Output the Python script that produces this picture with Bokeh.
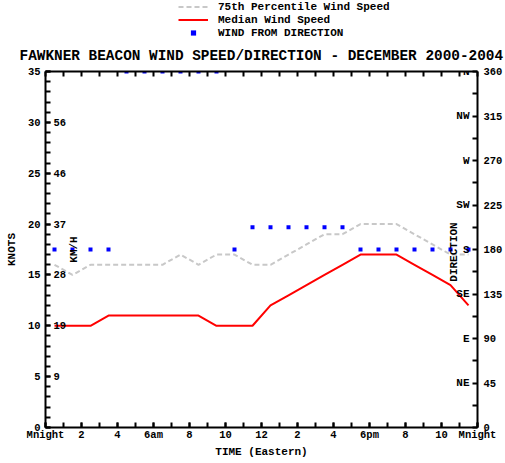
import math
from bokeh.plotting import figure
from bokeh.layouts import column
from bokeh.models import (Range1d, LinearAxis, FixedTicker, Label, LabelSet,
                          Legend, LegendItem, ColumnDataSource)
from bokeh.core.properties import value
from bokeh.embed import file_html
from bokeh.resources import INLINE

# ---------------- data ----------------
hours = [0.5, 1.5, 2.5, 3.5, 4.5, 5.5, 6.5, 7.5, 8.5, 9.5, 10.5, 11.5,
         12.5, 13.5, 14.5, 15.5, 16.5, 17.5, 18.5, 19.5, 20.5, 21.5, 22.5, 23.5]
median_speed = [10, 10, 10, 11, 11, 11, 11, 11, 11, 10, 10, 10,
                12, 13, 14, 15, 16, 17, 17, 17, 16, 15, 14, 12]
p75_speed = [16, 15, 16, 16, 16, 16, 16, 17, 16, 17, 17, 16,
             16, 17, 18, 19, 19, 20, 20, 20, 19, 18, 17, 17]
direction = [180, 180, 180, 180, 360, 360, 360, 360, 360, 360, 180, 202.5,
             202.5, 202.5, 202.5, 202.5, 202.5, 180, 180, 180, 180, 180, 180, 180]

hour_ticks = [0, 2, 4, 6, 8, 10, 12, 14, 16, 18, 20, 22, 24]
hour_minor = [0, 1, 2, 3, 4, 5, 6, 7, 8, 9, 10, 11, 12, 13, 14, 15, 16, 17,
              18, 19, 20, 21, 22, 23, 24]
hour_labels = ["Mnight", "2", "4", "6am", "8", "10", "12", "2", "4", "6pm",
               "8", "10", "Mnight"]
knot_ticks = [0, 5, 10, 15, 20, 25, 30, 35]
knot_minor = list(range(0, 36))
kmh_knots = [5, 10, 15, 20, 25, 30]
kmh_labels = ["9", "19", "28", "37", "46", "56"]
dir_ticks = [0, 45, 90, 135, 180, 225, 270, 315, 360]
dir_minor = [22.5, 67.5, 112.5, 157.5, 202.5, 247.5, 292.5, 337.5]
compass_dirs = [45, 90, 135, 180, 225, 270, 315, 360]
compass_labels = ["NE", "E", "SE", "S", "SW", "W", "NW", "N"]

title_text = "FAWKNER BEACON WIND SPEED/DIRECTION - DECEMBER 2000-2004"

FONT = value("Liberation Mono")
FONT_NAME = "Liberation Mono"

# layout in page pixels
W, H = 505, 463
HEAD = 39                      # header strip holding the legend
FL, FR, FT, FB = 45, 478, 71, 427

# ---------------- header (legend) ----------------
head = figure(width=W, height=HEAD, x_range=Range1d(0, 24), y_range=Range1d(-2, -1),
              output_backend="svg", toolbar_location=None,
              x_axis_location=None, y_axis_location=None, min_border=0)
head.outline_line_color = None
head.grid.grid_line_color = None
head.background_fill_color = "white"
head.border_fill_color = "white"

# legend samples (series lie outside this strip's range, so only the legend shows)
h_p75 = head.line(hours, p75_speed, line_color="#c8c8c8", line_width=2, line_dash="5 3")
h_med = head.line(hours, median_speed, line_color="#ff0000", line_width=2)
h_dir = head.scatter(hours, direction, marker="square", size=4,
                     fill_color="#0000ff", line_color=None)

legend = Legend(items=[LegendItem(label="75th Percentile Wind Speed", renderers=[h_p75]),
                       LegendItem(label="Median Wind Speed", renderers=[h_med]),
                       LegendItem(label="WIND FROM DIRECTION", renderers=[h_dir])],
                location=(178 - FL, 0), orientation="vertical",
                padding=0, margin=0, spacing=0, glyph_width=30,
                glyph_height=13, label_height=13, label_standoff=10,
                label_text_font=FONT_NAME, label_text_font_style="bold",
                label_text_font_size="11px", label_text_color="black",
                background_fill_alpha=0, border_line_alpha=0)
head.add_layout(legend)

# ---------------- main plot ----------------
p = figure(width=W, height=H - HEAD, x_range=Range1d(0, 24), y_range=Range1d(0, 35),
           output_backend="svg", toolbar_location=None,
           x_axis_location=None, y_axis_location=None,
           min_border_left=FL, min_border_right=W - FR,
           min_border_top=FT - HEAD, min_border_bottom=H - FB)
p.extra_y_ranges = {"dir": Range1d(0, 360)}
p.outline_line_color = None
p.grid.grid_line_color = None
p.background_fill_color = "white"
p.border_fill_color = "white"

p.title.text = title_text
p.title.align = "left"
p.title.vertical_align = "top"
p.title.offset = 19 - FL
p.title.standoff = 12
p.title.text_font = FONT_NAME
p.title.text_font_style = "bold"
p.title.text_font_size = "14.4px"
p.title.text_color = "black"


def style_axis(ax, standoff=3):
    ax.axis_line_color = "black"
    ax.axis_line_width = 2
    ax.major_tick_in = 5
    ax.major_tick_out = 0
    ax.minor_tick_in = 5
    ax.minor_tick_out = 0
    ax.major_tick_line_width = 2
    ax.minor_tick_line_width = 2
    ax.major_tick_line_color = "black"
    ax.minor_tick_line_color = "black"
    ax.major_label_text_font = FONT_NAME
    ax.major_label_text_font_style = "bold"
    ax.major_label_text_font_size = "10.5px"
    ax.major_label_text_color = "black"
    ax.major_label_standoff = standoff
    ax.axis_label_text_font = FONT_NAME
    ax.axis_label_text_font_style = "bold"
    ax.axis_label_text_font_size = "11px"
    ax.axis_label_text_color = "black"


bottom = LinearAxis(ticker=FixedTicker(ticks=hour_ticks, minor_ticks=hour_minor),
                    major_label_overrides={t: l for t, l in zip(hour_ticks, hour_labels)},
                    axis_label="TIME (Eastern)")
style_axis(bottom, 1)
bottom.axis_label_standoff = 2
p.add_layout(bottom, "below")

top = LinearAxis(ticker=FixedTicker(ticks=hour_minor, minor_ticks=[]),
                 major_label_overrides={t: "" for t in hour_minor})
style_axis(top, 0)
top.major_label_text_font_size = "1px"
p.add_layout(top, "above")

left = LinearAxis(ticker=FixedTicker(ticks=knot_ticks, minor_ticks=knot_minor),
                  axis_label="KNOTS")
style_axis(left, 5)
left.axis_label_standoff = 7
p.add_layout(left, "left")

right = LinearAxis(y_range_name="dir",
                   ticker=FixedTicker(ticks=dir_ticks, minor_ticks=dir_minor))
style_axis(right, 6)
p.add_layout(right, "right")

r_p75 = p.line(hours, p75_speed, line_color="#c8c8c8", line_width=2,
               line_dash="5 3")
r_med = p.line(hours, median_speed, line_color="#ff0000", line_width=2)
r_dir = p.scatter(hours, direction, y_range_name="dir", marker="square",
                  size=4, fill_color="#0000ff", line_color=None)

# km/h labels inside left axis
kmh_src = ColumnDataSource(dict(x=[0] * len(kmh_knots), y=kmh_knots, t=kmh_labels))
p.add_layout(LabelSet(x="x", y="y", text="t", source=kmh_src, x_offset=8,
                      text_align="left", text_baseline="middle",
                      text_font=FONT, text_font_style="bold",
                      text_font_size="10.5px", text_color="black"))

# compass labels inside right axis
cmp_src = ColumnDataSource(dict(x=[24] * len(compass_dirs), y=compass_dirs,
                                t=compass_labels))
p.add_layout(LabelSet(x="x", y="y", text="t", source=cmp_src, y_range_name="dir",
                      x_offset=-8, text_align="right", text_baseline="middle",
                      text_font=FONT, text_font_style="bold",
                      text_font_size="11px", text_color="black"))


def frame_label(text, px, py, size="11px", angle=0.0):
    return Label(x=px - FL, y=FB - py, x_units="screen", y_units="screen",
                 text=text, angle=angle, text_align="center",
                 text_baseline="middle", text_font=FONT_NAME,
                 text_font_style="bold", text_font_size=size,
                 text_color="black")


p.add_layout(frame_label("KM/H", 73, 249, angle=math.pi / 2))
p.add_layout(frame_label("DIRECTION", 453.5, 251.5, angle=math.pi / 2))

layout = column(head, p, spacing=0)
open("out.html", "w").write(file_html(layout, INLINE))
